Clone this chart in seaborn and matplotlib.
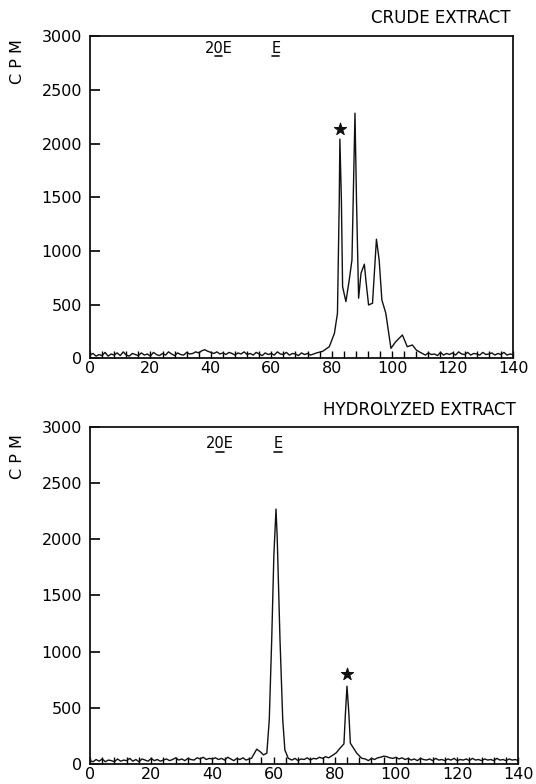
import numpy as np
import matplotlib
matplotlib.use("Agg")
import matplotlib.pyplot as plt
import matplotlib.transforms as mtransforms
from matplotlib.ticker import MultipleLocator
import seaborn as sns

sns.set_style("ticks")
plt.rcParams["font.family"] = ["DejaVu Sans"]
plt.rcParams["text.color"] = "black"
plt.rcParams["xtick.color"] = "black"
plt.rcParams["ytick.color"] = "black"

# ---- data (fraction number vs CPM) ----
# crude extract
crude_base1_x = list(range(0, 76))
crude_base1_y = [30, 45, 20, 35, 25, 55, 20, 40, 30, 50, 25, 60, 30, 20, 45, 35, 25, 50, 30, 40,
                 20, 55, 35, 25, 45, 30, 60, 40, 25, 50, 35, 30, 55, 40, 45, 60, 50, 70, 80, 65,
                 55, 45, 60, 40, 50, 35, 55, 45, 30, 50, 40, 60, 35, 45, 30, 55, 40, 25, 50, 35,
                 45, 30, 60, 40, 35, 55, 30, 45, 40, 25, 50, 35, 45, 30, 40, 50]
crude_peak_x = [77, 79.2, 80.9, 81.9, 82.5, 82.7, 83.2, 83.6, 84.7, 85.8, 86.7, 87.7, 88.2, 88.9,
                89.7, 90.8, 91.3, 92.2, 93.5, 94.8, 95.7, 96.6, 97.9, 99.6, 101.2, 103.4, 105.0,
                106.7, 108.0]
crude_peak_y = [65, 108, 233, 420, 1477, 2043, 1477, 668, 528, 730, 917, 2285, 1477, 560,
                793, 877, 730, 497, 513, 1110, 917, 544, 420, 93, 155, 217, 108,
                124, 77]
crude_base2_x = list(range(109, 141))
crude_base2_y = [60, 45, 30, 50, 35, 40, 25, 55, 30, 45, 35, 50, 30, 60, 40, 35, 55, 30, 45, 40,
                 30, 55, 35, 40, 50, 30, 45, 35, 55, 30, 40, 35]

# hydrolyzed extract
hydro_base1_x = list(range(0, 53))
hydro_base1_y = [30, 20, 40, 25, 45, 20, 35, 30, 20, 45, 25, 35, 30, 50, 25, 40, 20, 45, 35, 25,
                 50, 30, 40, 25, 35, 45, 30, 40, 55, 35, 45, 30, 50, 40, 35, 55, 45, 60, 40, 50,
                 45, 55, 40, 50, 35, 60, 45, 30, 50, 40, 55, 35, 45]
hydro_peak1_x = [52.8, 54.5, 55.6, 56.7, 57.8, 58.6, 59.4, 60.1, 60.8, 61.2, 62.1, 63.0, 63.7, 64.8]
hydro_peak1_y = [51, 132, 110, 81, 96, 394, 1110, 1856, 2268, 2005, 1110, 394, 125, 51]
hydro_base2_x = list(range(66, 79))
hydro_base2_y = [35, 50, 30, 45, 40, 55, 35, 50, 45, 60, 50, 65, 55]
hydro_peak2_x = [79.5, 80.5, 81.7, 83.0, 83.5, 84.0, 84.6, 85.1, 87.2, 88.8]
hydro_peak2_y = [81, 100, 140, 179, 454, 692, 454, 185, 96, 51]
hydro_base3_x = list(range(90, 141))
hydro_base3_y = [45, 30, 50, 40, 55, 60, 70, 65, 55, 50, 60, 45, 55, 40, 50, 35, 45, 30, 50, 40,
                 35, 45, 30, 50, 35, 40, 30, 45, 35, 50, 30, 40, 35, 45, 30, 50, 35, 40, 30, 45,
                 35, 40, 30, 50, 35, 40, 30, 45, 35, 40, 30]

crude_x = crude_base1_x + crude_peak_x + crude_base2_x
crude_y = crude_base1_y + crude_peak_y + crude_base2_y
hydro_x = hydro_base1_x + hydro_peak1_x + hydro_base2_x + hydro_peak2_x + hydro_base3_x
hydro_y = hydro_base1_y + hydro_peak1_y + hydro_base2_y + hydro_peak2_y + hydro_base3_y

# starred peak (same compound in both runs)
star_x = [82.7, 84.0]
star_y = [2140, 800]

# standards marked at the top of each panel
std_names = ["20E", "E"]
std_pos = [42.5, 61.5]

titles = ["CRUDE EXTRACT", "HYDROLYZED EXTRACT"]

fig = plt.figure(figsize=(5.36, 7.84), dpi=100)
ax1 = fig.add_axes([0.1679, 0.5430, 0.7892, 0.4105])
ax2 = fig.add_axes([0.1679, 0.0255, 0.7991, 0.4302])

panels = [(ax1, crude_x, crude_y, 0), (ax2, hydro_x, hydro_y, 1)]
title_dy = [0.0575, 0.0495]
std_dy = [0.964, 0.949]
cpm_y = [1 - 62 / 784, 1 - 457 / 784]

for ax, xs, ys, i in panels:
    sns.lineplot(x=xs, y=ys, ax=ax, color="#111111", lw=1.0, estimator=None, sort=False)
    sns.scatterplot(x=[star_x[i]], y=[star_y[i]], ax=ax, marker="*", s=85,
                    color="#111111", edgecolor="#111111", zorder=5)
    ax.set_xlim(0, 140)
    ax.set_ylim(0, 3000)
    ax.xaxis.set_major_locator(MultipleLocator(20))
    ax.xaxis.set_minor_locator(MultipleLocator(4))
    ax.yaxis.set_major_locator(MultipleLocator(500))
    ax.tick_params(axis="y", direction="in", length=7, width=1.2, pad=5.5, labelsize=11.5)
    ax.tick_params(axis="x", which="major", direction="in", length=5, width=1.0,
                   pad=2, labelsize=11.5)
    ax.tick_params(axis="x", which="minor", direction="in", length=5, width=1.0,
                   bottom=True)
    for s in ax.spines.values():
        s.set_linewidth(1.3)
        s.set_color("#111111")
    ax.set_xlabel("")
    ax.set_ylabel("")

    ax.text(0.995, 1 + title_dy[i], titles[i], transform=ax.transAxes,
            ha="right", va="center", fontsize=12)

    trans = mtransforms.blended_transform_factory(ax.transData, ax.transAxes)
    for name, pos in zip(std_names, std_pos):
        ax.text(pos, std_dy[i], name, transform=trans, ha="center", va="center", fontsize=10.5)
        ax.plot([pos - 1.2, pos + 1.2], [std_dy[i] - 0.025] * 2, transform=trans,
                color="#111111", lw=1.2)

    fig.text(18 / 536, cpm_y[i], "C P M", rotation=90, ha="center", va="center", fontsize=11.5)

fig.savefig("out.png", dpi=100)
